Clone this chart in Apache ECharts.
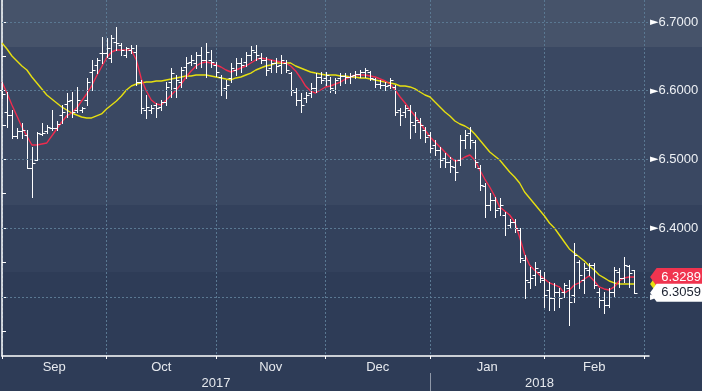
<!DOCTYPE html>
<html><head><meta charset="utf-8">
<script src="https://cdn.jsdelivr.net/npm/echarts@6/dist/echarts.min.js"></script>
<style>
html,body{margin:0;padding:0;}
#c{width:702px;height:391px;background:linear-gradient(to bottom,#46536a 0px,#46536a 47px,#3a4862 47px,#3a4862 205px,#33415c 205px,#33415c 272px,#2e3c57 272px,#2e3c57 391px);}
</style>
</head><body><div id="c"></div>
<script>
// ---- data ----
const opens = [6.601,6.569,6.565,6.534,6.541,6.536,6.487,6.499,6.537,6.541,6.546,6.546,6.565,6.581,6.586,6.572,6.572,6.586,6.627,6.637,
6.655,6.655,6.648,6.671,6.667,6.652,6.659,6.656,6.613,6.572,6.572,6.579,6.576,6.584,6.613,6.604,6.613,6.634,6.642,6.640,
6.652,6.645,6.645,6.637,6.620,6.604,6.618,6.630,6.640,6.642,6.652,6.656,6.648,6.645,6.633,6.640,6.637,6.640,6.626,6.598,
6.586,6.589,6.597,6.604,6.620,6.618,6.616,6.601,6.618,6.621,6.620,6.623,6.624,6.627,6.627,6.617,6.610,6.608,6.608,6.605,
6.572,6.569,6.572,6.550,6.554,6.543,6.536,6.521,6.514,6.502,6.496,6.489,6.499,6.528,6.539,6.525,6.487,6.461,6.434,6.441,
6.429,6.419,6.404,6.409,6.397,6.354,6.322,6.332,6.336,6.324,6.310,6.298,6.307,6.307,6.313,6.303,6.351,6.324,6.339,6.346,
6.307,6.295,6.288,6.307,6.336,6.327,6.345,6.339];
const closes = [6.595,6.565,6.534,6.541,6.543,6.487,6.495,6.539,6.539,6.547,6.546,6.552,6.569,6.585,6.569,6.586,6.575,6.613,6.630,6.645,
6.655,6.662,6.677,6.669,6.659,6.662,6.662,6.613,6.575,6.576,6.575,6.575,6.584,6.605,6.626,6.616,6.630,6.640,6.645,6.652,
6.645,6.656,6.642,6.627,6.601,6.608,6.633,6.640,6.637,6.652,6.659,6.652,6.645,6.630,6.640,6.636,6.645,6.630,6.601,6.586,
6.579,6.594,6.604,6.620,6.616,6.623,6.604,6.616,6.621,6.620,6.621,6.624,6.627,6.630,6.618,6.610,6.608,6.607,6.616,6.569,
6.565,6.575,6.554,6.557,6.550,6.533,6.517,6.514,6.499,6.496,6.490,6.482,6.528,6.536,6.528,6.496,6.463,6.434,6.441,6.426,
6.434,6.400,6.409,6.400,6.356,6.324,6.327,6.342,6.327,6.303,6.298,6.307,6.298,6.317,6.292,6.361,6.332,6.342,6.346,6.317,
6.295,6.288,6.307,6.339,6.327,6.346,6.335,6.3059];
const lows = [6.589,6.547,6.531,6.531,6.531,6.487,6.445,6.499,6.536,6.539,6.543,6.543,6.553,6.562,6.562,6.569,6.569,6.579,6.601,6.626,
6.640,6.649,6.642,6.659,6.652,6.649,6.655,6.608,6.568,6.560,6.568,6.562,6.572,6.579,6.591,6.591,6.605,6.618,6.637,6.633,
6.634,6.620,6.634,6.621,6.594,6.589,6.613,6.623,6.627,6.636,6.645,6.645,6.640,6.623,6.627,6.627,6.626,6.627,6.594,6.579,
6.569,6.584,6.591,6.598,6.611,6.608,6.598,6.597,6.608,6.611,6.611,6.618,6.620,6.620,6.615,6.605,6.604,6.601,6.604,6.565,
6.550,6.562,6.531,6.540,6.531,6.525,6.511,6.506,6.489,6.489,6.482,6.470,6.492,6.517,6.517,6.489,6.455,6.416,6.426,6.416,
6.419,6.390,6.400,6.394,6.351,6.298,6.313,6.317,6.321,6.285,6.281,6.281,6.285,6.300,6.259,6.292,6.313,6.305,6.332,6.313,
6.285,6.276,6.285,6.300,6.314,6.321,6.314,6.305];
const highs = [6.613,6.598,6.572,6.546,6.553,6.543,6.518,6.540,6.553,6.550,6.572,6.556,6.579,6.597,6.598,6.605,6.576,6.618,6.645,6.648,
6.678,6.677,6.681,6.693,6.669,6.664,6.667,6.667,6.616,6.594,6.579,6.582,6.586,6.613,6.633,6.623,6.634,6.649,6.652,6.656,
6.664,6.669,6.659,6.642,6.623,6.616,6.640,6.648,6.648,6.656,6.665,6.667,6.655,6.649,6.645,6.648,6.652,6.645,6.627,6.604,
6.597,6.598,6.611,6.626,6.627,6.627,6.620,6.618,6.626,6.626,6.626,6.629,6.630,6.633,6.629,6.618,6.616,6.613,6.618,6.608,
6.575,6.579,6.579,6.569,6.560,6.547,6.540,6.528,6.518,6.509,6.503,6.499,6.536,6.543,6.547,6.528,6.492,6.466,6.451,6.445,
6.444,6.423,6.413,6.413,6.400,6.361,6.343,6.351,6.339,6.336,6.321,6.320,6.313,6.320,6.324,6.378,6.354,6.349,6.349,6.349,
6.313,6.307,6.313,6.343,6.342,6.358,6.346,6.339];
const maFast = [6.6126,6.5966,6.5792,6.5632,6.5471,6.5340,6.5209,6.5209,6.5224,6.5239,6.5340,6.5442,6.5544,6.5632,6.5675,6.5748,6.5850,6.5952,6.6068,6.6214,
6.6345,6.6476,6.6563,6.6592,6.6592,6.6592,6.6592,6.6447,6.6170,6.5995,6.5864,6.5806,6.5792,6.5864,6.5937,6.6010,6.6097,6.6199,6.6287,6.6359,
6.6403,6.6418,6.6403,6.6374,6.6345,6.6301,6.6272,6.6301,6.6330,6.6359,6.6403,6.6447,6.6476,6.6461,6.6447,6.6432,6.6418,6.6403,6.6359,6.6287,
6.6185,6.6068,6.5995,6.5966,6.6010,6.6054,6.6068,6.6097,6.6126,6.6170,6.6199,6.6228,6.6228,6.6228,6.6214,6.6199,6.6170,6.6141,6.6097,6.6010,
6.5908,6.5821,6.5719,6.5632,6.5530,6.5428,6.5326,6.5253,6.5180,6.5107,6.5035,6.4977,6.4991,6.5035,6.5064,6.4991,6.4846,6.4714,6.4598,6.4467,
6.4307,6.4249,6.4190,6.4089,6.3870,6.3623,6.3463,6.3390,6.3317,6.3259,6.3201,6.3172,6.3143,6.3055,6.3099,6.3172,6.3201,6.3259,6.3303,6.3230,
6.3143,6.3114,6.3099,6.3143,6.3230,6.3274,6.3288,6.3289];
const maSlow = [6.6694,6.6607,6.6505,6.6432,6.6359,6.6301,6.6199,6.6112,6.6025,6.5937,6.5879,6.5821,6.5763,6.5719,6.5675,6.5646,6.5617,6.5603,6.5603,6.5632,
6.5661,6.5733,6.5792,6.5850,6.5923,6.6010,6.6068,6.6097,6.6112,6.6126,6.6126,6.6141,6.6141,6.6156,6.6170,6.6185,6.6199,6.6214,6.6214,6.6228,
6.6228,6.6228,6.6214,6.6199,6.6185,6.6170,6.6156,6.6185,6.6199,6.6228,6.6257,6.6301,6.6330,6.6359,6.6374,6.6403,6.6403,6.6403,6.6403,6.6359,
6.6330,6.6301,6.6272,6.6257,6.6243,6.6228,6.6228,6.6228,6.6214,6.6214,6.6199,6.6199,6.6185,6.6185,6.6170,6.6156,6.6141,6.6126,6.6112,6.6097,
6.6068,6.6068,6.6054,6.6025,6.5981,6.5937,6.5908,6.5835,6.5763,6.5690,6.5632,6.5559,6.5515,6.5486,6.5442,6.5370,6.5282,6.5195,6.5107,6.5049,
6.4991,6.4904,6.4816,6.4744,6.4656,6.4525,6.4438,6.4351,6.4263,6.4176,6.4074,6.4001,6.3899,6.3797,6.3696,6.3637,6.3579,6.3521,6.3448,6.3390,
6.3317,6.3274,6.3230,6.3201,6.3187,6.3187,6.3187,6.3187];
const yTickValues = [6.25,6.30,6.35,6.40,6.45,6.50,6.55,6.60,6.65,6.70];
const yLabelValues = [6.30,6.40,6.50,6.60,6.70];
const monthNames = ['Jan','Feb','Mar','Apr','May','Jun','Jul','Aug','Sep','Oct','Nov','Dec'];

// weekday categories Sep 1 2017 .. Mar 2 2018
const dates = [];
for (let d = new Date(Date.UTC(2017,8,1)); d <= new Date(Date.UTC(2018,2,2)); d.setUTCDate(d.getUTCDate()+1)) {
  const wd = d.getUTCDay();
  if (wd !== 0 && wd !== 6) dates.push(d.toISOString().slice(0,10));
}
const monthStarts = [], yearStarts = [];
dates.forEach((d,i) => {
  if (i === 0 || d.slice(0,7) !== dates[i-1].slice(0,7)) monthStarts.push(i);
  if (i === 0 || d.slice(0,4) !== dates[i-1].slice(0,4)) yearStarts.push(i);
});
const monthStartSet = new Set(monthStarts);
const lastIdx = dates.length - 1;
const monthMid = {}, yearMid = {};
for (let m = 0; m < monthStarts.length - 1; m++) {
  const a = monthStarts[m], b = monthStarts[m+1];
  monthMid[(a+b)/2] = monthNames[parseInt(dates[a].slice(5,7),10)-1];
}
for (let y = 0; y < yearStarts.length; y++) {
  const a = yearStarts[y], b = y+1 < yearStarts.length ? yearStarts[y+1] : lastIdx;
  yearMid[(a+b)/2] = dates[a].slice(0,4);
}
const ohlcData = opens.map((o,i) => [i, o, closes[i], lows[i], highs[i]]);
const n = opens.length - 1;

const FONT = 'Liberation Sans';
const GRID_COLOR = '#5a7892';
const badgePath = 'path://M0,9 L7,0 L60,0 L60,18 L7,18 Z';
function badge(val, bg, fg, z) {
  return {
    silent: true, z: z,
    symbol: badgePath, symbolSize: [56, 18], symbolKeepAspect: false,
    symbolOffset: [44, 0],
    itemStyle: {color: bg, borderWidth: 0},
    label: {show: true, position: 'inside', offset: [3, 0], color: fg, fontFamily: FONT, fontSize: 13,
            formatter: p => Number(p.value).toFixed(4)},
    data: [{coord: [n, val], value: val}]
  };
}

const chart = echarts.init(document.getElementById('c'), null, {renderer: 'canvas'});
chart.setOption({
  backgroundColor: 'transparent',
  animation: false,
  grid: {left: 2, right: 53, top: 0, bottom: 35, containLabel: false},
  xAxis: [
    {type: 'category', data: dates, boundaryGap: false,
     axisLine: {show: true, lineStyle: {color: '#ffffff', width: 1.5}},
     axisTick: {show: true, length: 3, interval: (i) => monthStartSet.has(i), lineStyle: {color: '#ffffff'}},
     axisLabel: {show: false},
     splitLine: {show: true, interval: (i) => monthStartSet.has(i), lineStyle: {color: GRID_COLOR, type: [2,2], width: 1}}},
    {type: 'value', min: 0, max: lastIdx, position: 'bottom',
     axisLine: {show: false}, axisTick: {show: false}, splitLine: {show: false},
     axisLabel: {show: true, margin: 5, customValues: Object.keys(monthMid).map(Number),
                 formatter: v => monthMid[v] || '', color: '#e6e9ee', fontFamily: FONT, fontSize: 13}},
    {type: 'value', min: 0, max: lastIdx, position: 'bottom', offset: 17,
     axisLine: {show: false}, splitLine: {show: false},
     axisTick: {show: true, inside: false, length: 18, customValues: yearStarts.slice(1), lineStyle: {color: '#8f98a8', width: 1}},
     axisLabel: {show: true, margin: 4, customValues: Object.keys(yearMid).map(Number),
                 formatter: v => yearMid[v] || '', color: '#e6e9ee', fontFamily: FONT, fontSize: 13}}
  ],
  yAxis: {
    type: 'value', position: 'right', min: 6.2138, max: 6.7320, scale: true,
    axisLine: {show: true, lineStyle: {color: '#ffffff', width: 1.5}},
    axisTick: {show: true, inside: false, length: 4, customValues: yTickValues, lineStyle: {color: '#ffffff'}},
    axisLabel: {show: true, margin: 1, customValues: yLabelValues,
      formatter: v => '{a|►}{b|' + v.toFixed(4) + '}',
      rich: {a: {color: '#ffffff', fontSize: 11, fontFamily: 'DejaVu Sans', padding: [0,0,0,0]},
             b: {color: '#eef1f5', fontSize: 13, fontFamily: FONT}}},
    splitLine: {show: false}
  },
  series: [
    {name: 'MA slow', type: 'line', data: maSlow, showSymbol: false, z: 2,
     lineStyle: {color: '#e6df10', width: 1.4}, itemStyle: {color: '#e6df10'},
     markLine: {silent: true, symbol: ['none','none'], label: {show: false},
                lineStyle: {color: GRID_COLOR, type: [2,2], width: 1},
                data: yLabelValues.map(v => ({yAxis: v}))},
     markPoint: badge(maSlow[n], '#e6df10', '#1c2230', 5)},
    {name: 'MA fast', type: 'line', data: maFast, showSymbol: false, z: 2,
     lineStyle: {color: '#ee2c4e', width: 1.4}, itemStyle: {color: '#ee2c4e'},
     markPoint: badge(maFast[n], '#f0344f', '#ffffff', 6)},
    {name: 'OHLC', type: 'custom', z: 3, data: ohlcData, encode: {x: 0, y: [1,2,3,4]},
     markPoint: badge(closes[n], '#ffffff', '#1c2230', 7),
     renderItem: (params, api) => {
       const i = api.value(0);
       const pH = api.coord([i, api.value(4)]);
       const pL = api.coord([i, api.value(3)]);
       const pO = api.coord([i, api.value(1)]);
       const pC = api.coord([i, api.value(2)]);
       const x = Math.round(pH[0]) + 0.5;
       const yo = Math.round(pO[1]) + 0.5, yc = Math.round(pC[1]) + 0.5;
       const st = {stroke: '#ffffff', lineWidth: 1};
       return {type: 'group', children: [
         {type: 'line', shape: {x1: x, y1: Math.round(pH[1]), x2: x, y2: Math.round(pL[1]) + 1}, style: st},
         {type: 'line', shape: {x1: x - 3, y1: yo, x2: x, y2: yo}, style: st},
         {type: 'line', shape: {x1: x, y1: yc, x2: x + 3, y2: yc}, style: st}
       ]};
     }}
  ]
});
</script>
</body></html>
